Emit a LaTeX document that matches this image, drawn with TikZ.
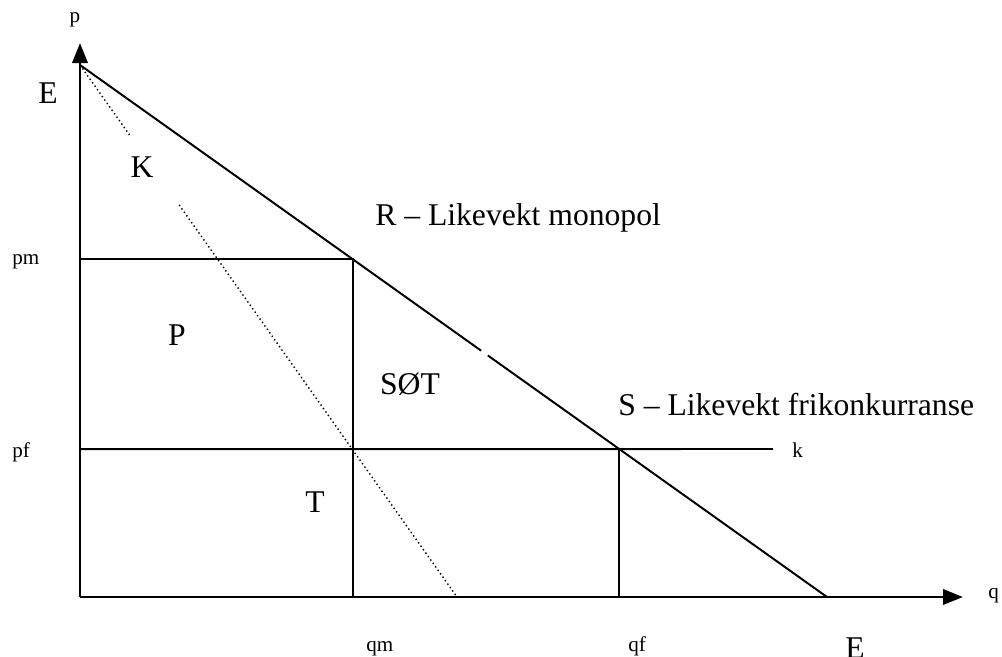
\documentclass[tikz,border=0pt]{standalone}
\usepackage{fontspec}
\setmainfont{Liberation Serif}
\usetikzlibrary{arrows.meta,calc}
\tikzset{axis/.style={line width=2pt,-{Triangle[length=5mm,width=3.8mm]}}}
\tikzset{curve/.style={line width=1.4pt}}
\tikzset{mr/.style={line width=1pt,dotted}}
\tikzset{big/.style={font=\fontsize{22.5}{26}\selectfont,inner sep=0pt}}
\tikzset{small/.style={font=\fontsize{15}{18}\selectfont,inner sep=0pt}}

\begin{document}
\begin{tikzpicture}[x=0.025cm,y=-0.025cm]
	\useasboundingbox (0,0) rectangle (1002,657);
	\coordinate (O) at (80,597);
	\coordinate (ytop) at (80,43);
	\coordinate (xend) at (963,597);
	% demand line, ends E
	\coordinate (E1) at (80,65);
	\coordinate (E2) at (827,597);
	\coordinate (R) at ($(E1)!0.365!(E2)$);
	\coordinate (S) at ($(E1)!0.722!(E2)$);
	\coordinate (pm) at (R-|O);
	\coordinate (pf) at (S-|O);
	\coordinate (kend) at (773,449);
	\coordinate (mrend) at (457,597);

	\draw [axis] (O) -- (ytop);
	\draw [axis] (O) -- (xend);

	\draw [curve] (E1) -- ($(E1)!0.537!(E2)$);
	\draw [curve] ($(E1)!0.546!(E2)$) -- (E2);
	\draw [curve] (pm) -- (R) -- (R|-O);
	\draw [curve] (pf) -- (kend);
	\draw [curve] (S) -- (S|-O);

	\draw [mr] (E1) -- ($(E1)!0.135!(mrend)$);
	\draw [mr] ($(E1)!0.263!(mrend)$) -- (mrend);

	\node [small] (plab) at (75,20) {p};
	\node [small,anchor=base west] (qlab) at (988,598) {q};
	\node [big] (etop) at (48,93) {E};
	\node [big,anchor=base] (ebot) at (855,658) {E};
	\node [big] (klab) at (142,167) {K};
	\node [big,anchor=base] (plab2) at (177,345) {P};
	\node [big,anchor=base] (sotlab) at (410,394) {SØT};
	\node [big,anchor=base] (tlab) at (315,512) {T};
	\node [big,anchor=base west] (rlab) at (375,225) {R -- Likevekt monopol};
	\node [big,anchor=base west] (slab) at (618,415) {S -- Likevekt frikonkurranse};
	\node [small,anchor=base west] (pmlab) at (12,264) {pm};
	\node [small,anchor=base west] (pflab) at (12,457) {pf};
	\node [small,anchor=base west] (klab2) at (792,457) {k};
	\node [small,anchor=base west] (qmlab) at (366,651) {qm};
	\node [small,anchor=base west] (qflab) at (628,651) {qf};
\end{tikzpicture}
\end{document}
